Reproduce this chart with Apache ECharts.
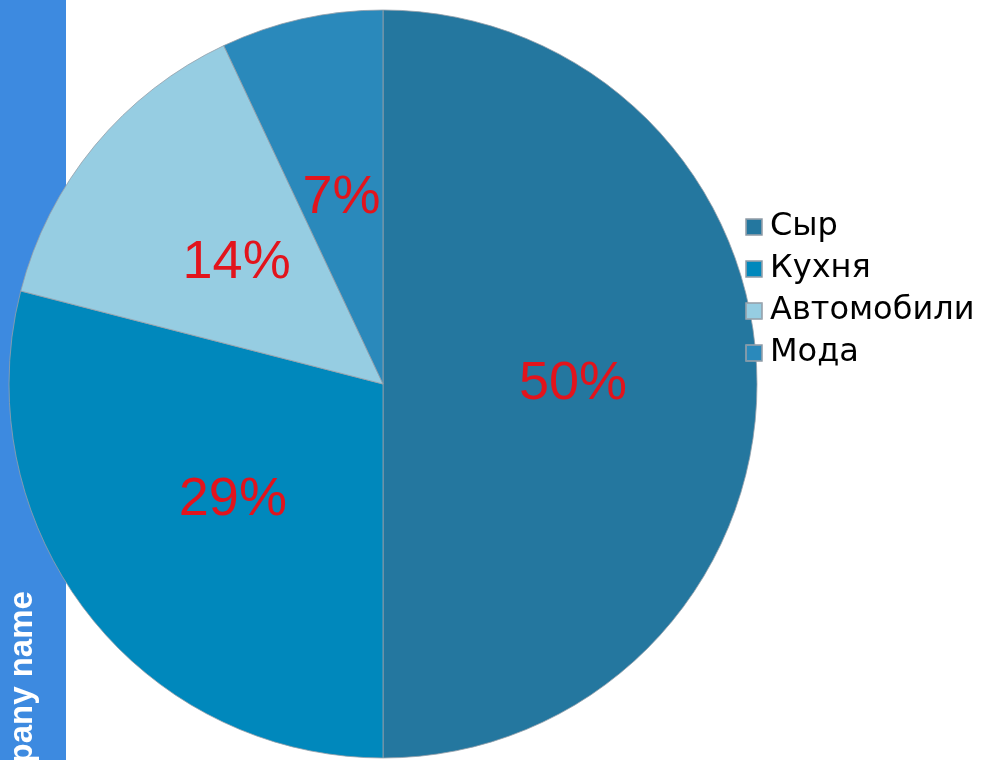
<!DOCTYPE html>
<html>
<head>
<meta charset="utf-8">
<script src="https://cdn.jsdelivr.net/npm/echarts@6/dist/echarts.min.js"></script>
<style>
  html, body { margin: 0; padding: 0; background: #fff; }
  #main { width: 984px; height: 760px; }
</style>
</head>
<body>
<div id="main"></div>
<script>
// данные диаграммы
var categories = ['Сыр', 'Кухня', 'Автомобили', 'Мода'];
var values = [50, 29, 14, 7];
var colors = ['#24779f', '#0088bc', '#96cde2', '#2a89bb'];
var sideText = 'Company name';

var myChart = echarts.init(document.getElementById('main'));

var pieData = categories.map(function (name, i) {
    return { name: name, value: values[i], itemStyle: { color: colors[i] } };
});

option = {
    animation: false,
    textStyle: { fontFamily: 'Liberation Sans, Arial, sans-serif' },
    graphic: [
        {
            type: 'rect',
            z: 0,
            shape: { x: 0, y: 0, width: 66, height: 760 },
            style: { fill: '#3d8ae0' }
        },
        {
            type: 'text',
            z: 1,
            x: 23,
            y: 714,
            rotation: Math.PI / 2,
            style: {
                text: sideText,
                fill: '#fff',
                font: 'bold 33px "Liberation Sans", Arial, sans-serif',
                textAlign: 'center',
                textVerticalAlign: 'middle'
            }
        }
    ],
    legend: {
        orient: 'vertical',
        left: 745,
        top: 211,
        padding: 0,
        itemWidth: 16,
        itemHeight: 16,
        itemGap: 10,
        icon: 'rect',
        data: categories,
        textStyle: {
            color: '#000',
            fontSize: 32,
            lineHeight: 32,
            padding: [0, 0, 0, 3],
            fontFamily: 'DejaVu Sans, sans-serif'
        }
    },
    series: [
        {
            type: 'pie',
            z: 3,
            center: [383, 384],
            radius: [0, 374],
            startAngle: 90,
            clockwise: true,
            silent: true,
            itemStyle: {
                borderColor: 'rgba(150,160,170,0.8)',
                borderWidth: 1
            },
            label: {
                show: true,
                position: 'inside',
                formatter: '{d}%',
                color: '#e2141c',
                fontSize: 54,
                fontFamily: 'Liberation Sans, Arial, sans-serif'
            },
            labelLine: { show: false },
            data: pieData
        }
    ]
};

myChart.setOption(option);
</script>
</body>
</html>
